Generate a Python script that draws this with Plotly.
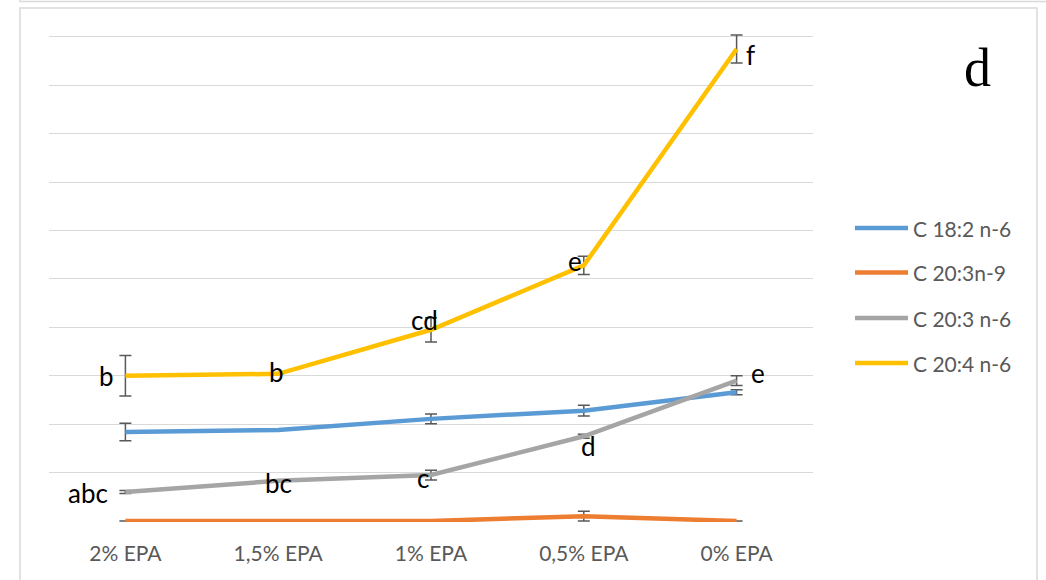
import plotly.graph_objects as go

# Diet groups (x categories)
categories = ["2% EPA", "1,5% EPA", "1% EPA", "0,5% EPA", "0% EPA"]

# Fatty-acid series: mean values and standard errors
series_names = ["C 18:2 n-6", "C 20:3n-9", "C 20:3 n-6", "C 20:4 n-6"]
c182_n6 = [1.84, 1.88, 2.11, 2.28, 2.66]
c182_n6_err = [0.18, 0.0, 0.10, 0.11, 0.05]
c203_n9 = [0.0, 0.0, 0.0, 0.10, 0.0]
c203_n9_err = [0.0, 0.0, 0.0, 0.10, 0.0]
c203_n6 = [0.60, 0.83, 0.95, 1.75, 2.90]
c203_n6_err = [0.03, 0.0, 0.10, 0.04, 0.10]
c204_n6 = [3.00, 3.04, 3.95, 5.28, 9.75]
c204_n6_err = [0.42, 0.0, 0.25, 0.19, 0.29]

# Significance letters
letters_c204 = ["b", "b", "cd", "e", "f"]
letters_c203_n6 = ["abc", "bc", "c", "d", "e"]

colors = ["#5B9BD5", "#ED7D31", "#A5A5A5", "#FFC000"]
values = [c182_n6, c203_n9, c203_n6, c204_n6]
errors = [c182_n6_err, c203_n9_err, c203_n6_err, c204_n6_err]

W, H = 1046, 580
ML, MR, MT, MB = 49, 233, 32, 58
PW, PH = W - ML - MR, H - MT - MB


def px(x):
    return (x - ML) / PW


def py(y):
    return (H - MB - y) / PH


fig = go.Figure()
for name, vals, errs, col in zip(series_names, values, errors, colors):
    fig.add_trace(go.Scatter(
        x=categories, y=vals, name=name, mode="lines",
        line=dict(color=col, width=4.5),
        error_y=dict(type="data", array=errs, visible=True,
                     color="#595959", thickness=1.5, width=6),
        showlegend=False,
    ))

label_font = dict(family="Lato", size=26, color="#000000")
# letter offsets (pixels) relative to each point
shift_c204 = [(-19, 0), (-2, 2), (-7, 10), (-9, 4), (14, -6)]
shift_c203 = [(-37, -1), (0, -2), (-8, -3), (5, -10), (21, 8)]
annotations = []
for cat, v, t, (dx, dy) in zip(categories, c204_n6, letters_c204, shift_c204):
    annotations.append(dict(x=cat, y=v, text=t, showarrow=False, xshift=dx,
                            yshift=dy, font=label_font))
for cat, v, t, (dx, dy) in zip(categories, c203_n6, letters_c203_n6, shift_c203):
    annotations.append(dict(x=cat, y=v, text=t, showarrow=False, xshift=dx,
                            yshift=dy, font=label_font))

# Panel letter
annotations.append(dict(xref="paper", yref="paper", x=px(993), y=py(36),
                        text="d", showarrow=False,
                        font=dict(family="Liberation Serif", size=54,
                                  color="#000000")))

# Legend drawn as keys + labels
shapes = []
legend_y = [228, 272.5, 318, 363]
for name, col, ly in zip(series_names, colors, legend_y):
    shapes.append(dict(type="line", xref="paper", yref="paper",
                       x0=px(855), x1=px(908), y0=py(ly), y1=py(ly),
                       line=dict(color=col, width=4.5)))
    annotations.append(dict(xref="paper", yref="paper", x=px(911), y=py(ly),
                            xanchor="left", yanchor="middle", text=name,
                            showarrow=False,
                            font=dict(family="Lato", size=21, color="#595959")))

# Chart frame
frame = dict(color="#d9d9d9", width=1.5)
shapes.append(dict(type="rect", xref="paper", yref="paper", x0=px(20),
                   x1=px(1037), y0=py(600), y1=py(8), line=frame,
                   fillcolor="rgba(0,0,0,0)", layer="below"))
shapes.append(dict(type="line", xref="paper", yref="paper", x0=px(20),
                   x1=px(1046), y0=py(1.5), y1=py(1.5), line=frame))
shapes.append(dict(type="line", xref="paper", yref="paper", x0=px(20),
                   x1=px(20), y0=py(0), y1=py(2), line=frame))

fig.update_layout(
    width=W, height=H,
    margin=dict(l=ML, r=MR, t=MT, b=MB),
    paper_bgcolor="white", plot_bgcolor="white",
    shapes=shapes, annotations=annotations,
    xaxis=dict(type="category", range=[-0.5, 4.5], showgrid=False,
               showline=False, zeroline=False, ticks="",
               ticklabelstandoff=17,
               tickfont=dict(family="Lato", size=21, color="#595959")),
    yaxis=dict(range=[-0.02, 10.1], dtick=1, tick0=0, showgrid=True,
               gridcolor="#d9d9d9", gridwidth=1.3, zeroline=False,
               showticklabels=False, showline=False, ticks=""),
)

fig.write_html("out.html")
